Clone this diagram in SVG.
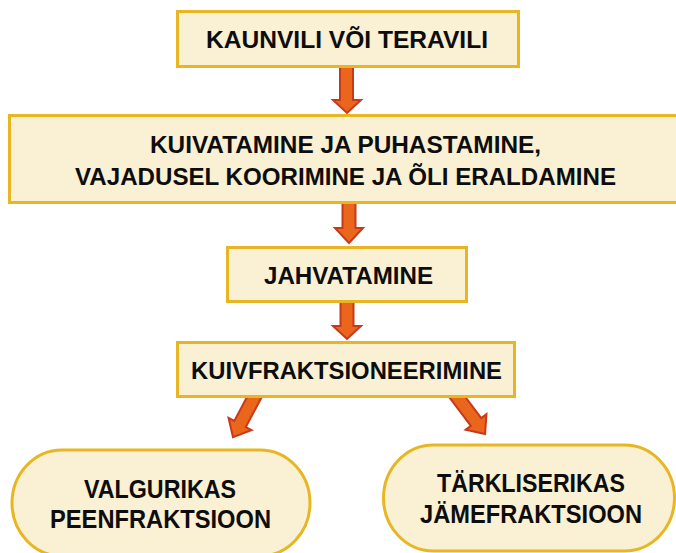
<svg xmlns="http://www.w3.org/2000/svg" width="676" height="553" viewBox="0 0 676 553">
<style>
.box{fill:#FAF0D3;stroke:#E8B622;stroke-width:3}
.t{font-family:"Liberation Sans",Arial,sans-serif;font-weight:bold;font-size:24px;fill:#0d0d0d}
.tp{font-size:26px}
.arr{fill:#EA661D;stroke:#C8391A;stroke-width:2;stroke-linejoin:miter}
</style>
<defs>
<path id="va" d="M-6.5,0 L6.5,0 L6.5,-15 L14,-15 L0,0 Z"/>
</defs>
<g id="connectors">
<path class="arr" d="M340,64 L353,64 L353,100 L361,100 L347,113 L333,100 L340,100 Z"/>
<path class="arr" d="M342.5,201 L355.5,201 L355.5,228 L363,228 L349,243 L335,228 L342.5,228 Z"/>
<path class="arr" d="M340.5,300 L353.5,300 L353.5,326 L361,326 L347,339 L333,326 L340.5,326 Z"/>
<path class="arr" transform="translate(256,394) rotate(28)" d="M-6.5,0 L6.5,0 L6.5,34 L13,34 L0,49 L-13,34 L-6.5,34 Z"/>
<path class="arr" transform="translate(455,394) rotate(-37)" d="M-6.5,0 L6.5,0 L6.5,35 L13,35 L0,50 L-13,35 L-6.5,35 Z"/>
</g>
<g id="n1">
<rect class="box" x="177.5" y="11.5" width="341" height="55"/>
<text class="t" x="206" y="48" textLength="282" lengthAdjust="spacingAndGlyphs">KAUNVILI VÕI TERAVILI</text>
</g>
<g id="n2">
<rect class="box" x="9.5" y="115.5" width="680" height="87"/>
<text class="t" x="150" y="153" textLength="391" lengthAdjust="spacingAndGlyphs">KUIVATAMINE JA PUHASTAMINE,</text>
<text class="t" x="75" y="185" textLength="541" lengthAdjust="spacingAndGlyphs">VAJADUSEL KOORIMINE JA ÕLI ERALDAMINE</text>
</g>
<g id="n3">
<rect class="box" x="227.5" y="247.5" width="239" height="54"/>
<text class="t" x="264" y="284" textLength="169" lengthAdjust="spacingAndGlyphs">JAHVATAMINE</text>
</g>
<g id="n4">
<rect class="box" x="177.5" y="342.5" width="337" height="54"/>
<text class="t" x="191" y="379" textLength="311" lengthAdjust="spacingAndGlyphs">KUIVFRAKTSIONEERIMINE</text>
</g>
<g id="n5">
<rect class="box" x="12" y="450" width="298" height="106" rx="50" ry="53"/>
<text class="t tp" x="84" y="498" textLength="152" lengthAdjust="spacingAndGlyphs">VALGURIKAS</text>
<text class="t tp" x="50" y="528" textLength="221" lengthAdjust="spacingAndGlyphs">PEENFRAKTSIOON</text>
</g>
<g id="n6">
<rect class="box" x="383.5" y="445" width="291" height="106" rx="50" ry="53"/>
<text class="t tp" x="437" y="492" textLength="188" lengthAdjust="spacingAndGlyphs">TÄRKLISERIKAS</text>
<text class="t tp" x="420" y="523" textLength="222" lengthAdjust="spacingAndGlyphs">JÄMEFRAKTSIOON</text>
</g>
</svg>
